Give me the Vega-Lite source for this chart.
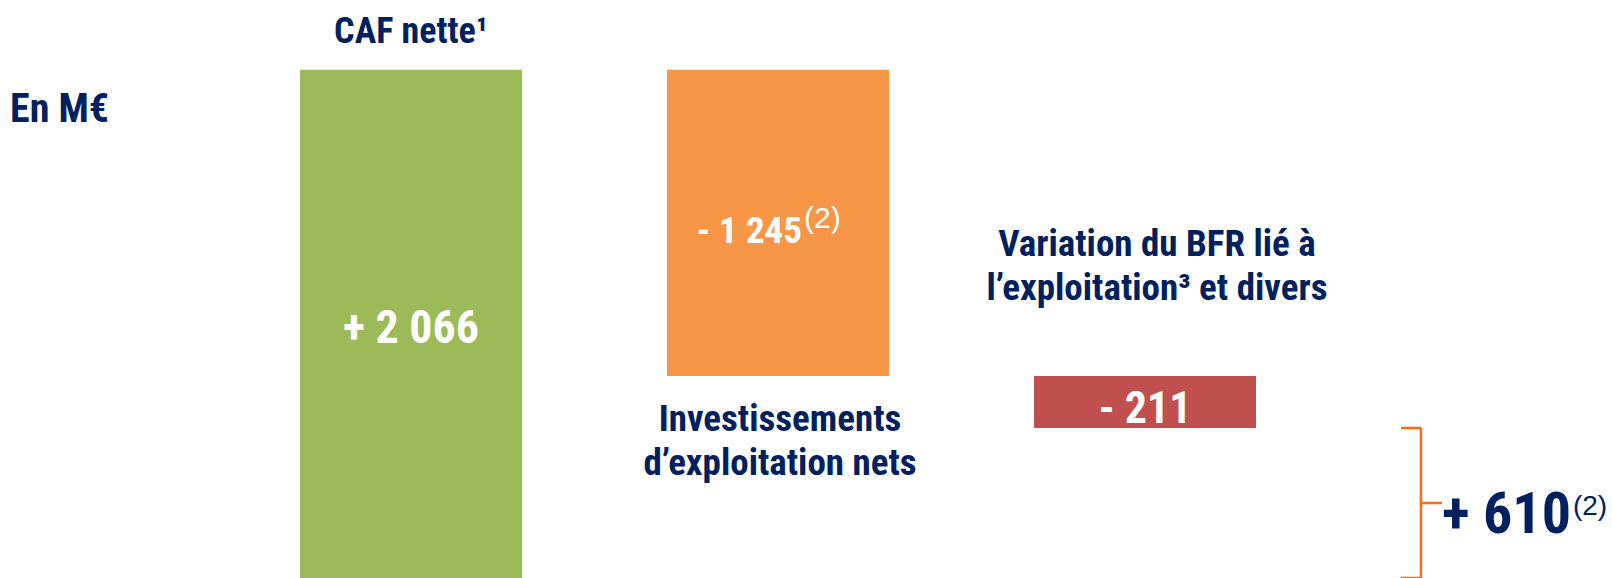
{
  "$schema": "https://vega.github.io/schema/vega-lite/v6.json",
  "width": 1612,
  "height": 578,
  "autosize": {"type": "none"},
  "padding": 0,
  "background": "white",
  "config": {"view": {"stroke": null}, "text": {"font": "'Roboto Condensed', 'Liberation Sans Narrow', 'DejaVu Sans Condensed', 'Liberation Sans', sans-serif"}},
  "data": {"values": [
    {"cat": "CAF", "start": 0, "end": 2066, "label": "+ 2 066", "sup": "", "title": "CAF nette¹"},
    {"cat": "Invest", "start": 2066, "end": 821, "label": "- 1 245", "sup": "(2)", "title": "Investissements\nd’exploitation nets"},
    {"cat": "BFR", "start": 821, "end": 610, "label": "- 211", "sup": "", "title": "Variation du BFR lié à\nl’exploitation³ et divers"},
    {"cat": "Total", "start": 610, "end": 0, "label": "+ 610", "sup": "(2)", "title": ""}
  ]},
  "layer": [
    {
      "transform": [{"filter": "datum.cat !== 'Total'"}],
      "mark": {"type": "bar"},
      "encoding": {
        "x": {"field": "cat", "type": "nominal", "axis": null, "sort": null,
              "scale": {"type": "band", "domain": ["CAF", "Invest", "BFR", "Total"], "range": [300, 1623], "paddingInner": 0.395, "paddingOuter": 0}},
        "y": {"field": "start", "type": "quantitative", "axis": null, "scale": {"domain": [0, 2350], "nice": false, "zero": true}},
        "y2": {"field": "end"},
        "color": {"field": "cat", "type": "nominal", "legend": null,
                  "scale": {"domain": ["CAF", "Invest", "BFR"], "range": ["#9BBB59", "#F79646", "#C0504D"]}}
      }
    },
    {
      "transform": [{"filter": "datum.cat === 'Total'"}],
      "mark": {"type": "rule", "stroke": "#FF6A13", "strokeWidth": 2.5},
      "encoding": {
        "x": {"field": "cat", "type": "nominal", "bandPosition": 0.09},
        "y": {"field": "start", "type": "quantitative"},
        "y2": {"field": "end"}
      }
    },
    {
      "transform": [{"filter": "datum.cat === 'Total'"}, {"fold": ["start", "end"], "as": ["k", "v"]}],
      "mark": {"type": "rule", "stroke": "#FF6A13", "strokeWidth": 2.5},
      "encoding": {
        "x": {"field": "cat", "type": "nominal", "bandPosition": 0},
        "x2": {"field": "cat", "bandPosition": 0.09},
        "y": {"field": "v", "type": "quantitative"}
      }
    },
    {
      "transform": [{"filter": "datum.cat === 'Total'"}, {"fold": ["start", "end"], "as": ["k", "v"]}],
      "mark": {"type": "rule", "stroke": "#FF6A13", "strokeWidth": 2.5},
      "encoding": {
        "x": {"field": "cat", "type": "nominal", "bandPosition": 0.09},
        "x2": {"field": "cat", "bandPosition": 0.185},
        "y": {"field": "v", "type": "quantitative", "aggregate": "mean"}
      }
    },
    {
      "transform": [{"filter": "datum.cat === 'CAF'"}, {"fold": ["start", "end"], "as": ["k", "v"]}],
      "mark": {"type": "text", "color": "white", "fontWeight": "bold", "fontSize": 46, "baseline": "alphabetic", "dy": 19},
      "encoding": {
        "x": {"field": "cat", "type": "nominal"},
        "y": {"field": "v", "type": "quantitative", "aggregate": "mean"},
        "text": {"field": "label"}
      }
    },
    {
      "transform": [{"filter": "datum.cat === 'Invest'"}, {"fold": ["start", "end"], "as": ["k", "v"]}],
      "mark": {"type": "text", "color": "white", "fontWeight": "bold", "fontSize": 37, "baseline": "alphabetic", "align": "right", "dx": 24, "dy": 20},
      "encoding": {
        "x": {"field": "cat", "type": "nominal"},
        "y": {"field": "v", "type": "quantitative", "aggregate": "mean"},
        "text": {"field": "label"}
      }
    },
    {
      "transform": [{"filter": "datum.cat === 'Invest'"}, {"fold": ["start", "end"], "as": ["k", "v"]}],
      "mark": {"type": "text", "color": "white", "font": "Liberation Sans", "fontWeight": "normal", "fontSize": 30, "baseline": "top", "align": "left", "dx": 26, "dy": -19},
      "encoding": {
        "x": {"field": "cat", "type": "nominal"},
        "y": {"field": "v", "type": "quantitative", "aggregate": "mean"},
        "text": {"field": "sup"}
      }
    },
    {
      "transform": [{"filter": "datum.cat === 'BFR'"}, {"fold": ["start", "end"], "as": ["k", "v"]}],
      "mark": {"type": "text", "color": "white", "fontWeight": "bold", "fontSize": 44, "baseline": "alphabetic", "dy": 21},
      "encoding": {
        "x": {"field": "cat", "type": "nominal"},
        "y": {"field": "v", "type": "quantitative", "aggregate": "mean"},
        "text": {"field": "label"}
      }
    },
    {
      "transform": [{"filter": "datum.cat === 'Total'"}, {"fold": ["start", "end"], "as": ["k", "v"]}],
      "mark": {"type": "text", "color": "#002060", "fontWeight": "bold", "fontSize": 58, "baseline": "alphabetic", "align": "right", "dx": 170, "dy": 30},
      "encoding": {
        "x": {"field": "cat", "type": "nominal", "bandPosition": 0},
        "y": {"field": "v", "type": "quantitative", "aggregate": "mean"},
        "text": {"field": "label"}
      }
    },
    {
      "transform": [{"filter": "datum.cat === 'Total'"}, {"fold": ["start", "end"], "as": ["k", "v"]}],
      "mark": {"type": "text", "color": "#002060", "font": "Liberation Sans", "fontWeight": "normal", "fontSize": 28, "baseline": "top", "align": "left", "dx": 172, "dy": -10},
      "encoding": {
        "x": {"field": "cat", "type": "nominal", "bandPosition": 0},
        "y": {"field": "v", "type": "quantitative", "aggregate": "mean"},
        "text": {"field": "sup"}
      }
    },
    {
      "transform": [{"filter": "datum.cat === 'CAF'"}],
      "mark": {"type": "text", "color": "#002060", "fontWeight": "bold", "fontSize": 36, "baseline": "alphabetic", "dy": -27},
      "encoding": {
        "x": {"field": "cat", "type": "nominal"},
        "y": {"field": "end", "type": "quantitative"},
        "text": {"field": "title"}
      }
    },
    {
      "transform": [{"filter": "datum.cat === 'CAF'"}],
      "mark": {"type": "text", "color": "#002060", "fontWeight": "bold", "fontSize": 40, "baseline": "alphabetic", "align": "left", "dx": -290, "dy": 52},
      "encoding": {
        "x": {"field": "cat", "type": "nominal", "bandPosition": 0},
        "y": {"field": "end", "type": "quantitative"},
        "text": {"value": "En M€"}
      }
    },
    {
      "transform": [{"filter": "datum.cat === 'Invest'"}],
      "mark": {"type": "text", "color": "#002060", "fontWeight": "bold", "fontSize": 37, "baseline": "top", "lineBreak": "\n", "lineHeight": 44, "dx": 2, "dy": 26},
      "encoding": {
        "x": {"field": "cat", "type": "nominal"},
        "y": {"field": "end", "type": "quantitative"},
        "text": {"field": "title"}
      }
    },
    {
      "transform": [{"filter": "datum.cat === 'BFR'"}],
      "mark": {"type": "text", "color": "#002060", "fontWeight": "bold", "fontSize": 37, "baseline": "bottom", "lineBreak": "\n", "lineHeight": 44, "dx": 12, "dy": -112},
      "encoding": {
        "x": {"field": "cat", "type": "nominal"},
        "y": {"field": "start", "type": "quantitative"},
        "text": {"field": "title"}
      }
    }
  ]
}
